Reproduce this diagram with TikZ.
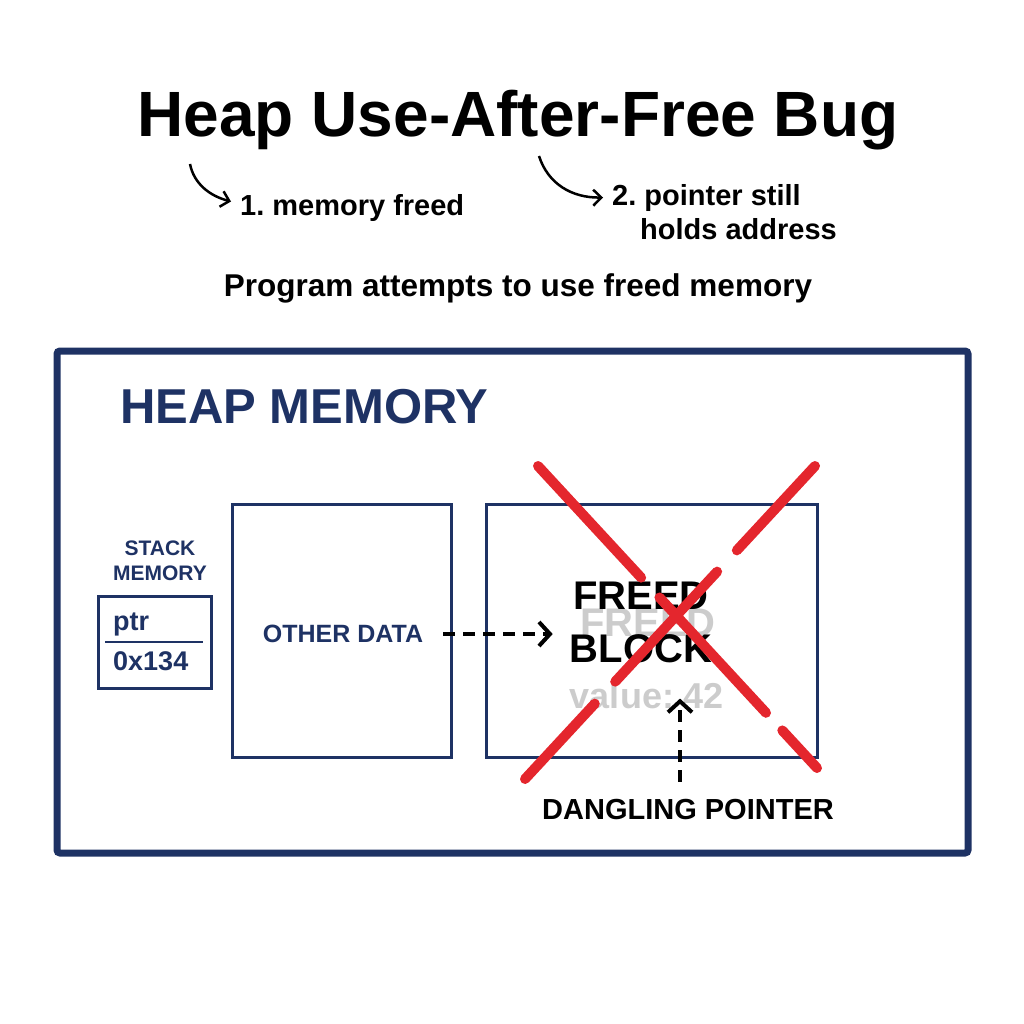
\documentclass[tikz,border=0pt]{standalone}
\usepackage{fontspec}
\setmainfont{Liberation Sans}
\frenchspacing
\usetikzlibrary{arrows.meta}
\definecolor{navy}{HTML}{1E3264}
\definecolor{xred}{HTML}{E4262D}
\newcommand{\fsz}[2]{\fontsize{#1}{#2}\selectfont\bfseries}

\begin{document}
\begin{tikzpicture}[x=1pt, y=-1pt, inner sep=0pt,
    box/.style={draw=navy, line width=3pt},
    notearrow/.style={line width=2.5pt, -{Straight Barb[length=8pt,width=16pt]}},
    dasharrow/.style={line width=4pt, dash pattern=on 12pt off 8pt,
      -{Straight Barb[length=11pt,width=24pt]}},
    cross/.style={xred, line width=10pt, line cap=round}]
   \useasboundingbox (0,0) rectangle (1024,1024);

   % titles
   \node[anchor=base, font=\fsz{64}{70}] (title) at (518,137) {Heap Use-After-Free Bug};
   \node[anchor=base west, font=\fsz{29}{34}] (freedlab) at (240,215) {1. memory freed};
   \node[anchor=base west, font=\fsz{29}{34}] (ptrlab) at (612,206) {2. pointer still};
   \node[anchor=base west, font=\fsz{29}{34}] (ptrlabb) at (640,240) {holds address};
   \node[anchor=base, font=\fsz{31.5}{36}] (prog) at (518,296) {Program attempts to use freed memory};

   \coordinate (nstart) at (190,164);
   \coordinate (pstart) at (539,156);
   \draw[notearrow] (nstart) .. controls (194,184) and (210,196) .. ([xshift=-9pt,yshift=6pt]freedlab.west);
   \draw[notearrow] (pstart) .. controls (548,184) and (572,198) .. ([xshift=-9pt,yshift=1pt]ptrlab.west);

   % heap frame
   \draw[navy, line width=7pt, rounded corners=3pt] (57,351) rectangle (968,853);
   \node[anchor=base west, text=navy, font=\fsz{49}{56}] (heap) at (120,423) {HEAP MEMORY};

   % stack
   \node[align=center, text=navy, font=\fsz{21}{25}] (stack) at (160,561) {STACK\\MEMORY};
   \draw[box] (98,596) rectangle (211,688);
   \draw[navy, line width=1.5pt] (105,642) -- (203,642);
   \node[anchor=base west, text=navy, font=\fsz{27}{32}] (ptr) at (113,630) {ptr};
   \node[anchor=base west, text=navy, font=\fsz{27}{32}] (addr) at (113,670) {0x134};

   % blocks
   \draw[box] (232,504) rectangle (451,757);
   \node[text=navy, font=\fsz{25}{30}] (other) at (343,634) {OTHER DATA};
   \draw[box] (486,504) rectangle (817,757);
   \node[text=black!20, font=\fsz{40}{53}] (ghost) at (648,623) {FREED};
   \node[align=center, font=\fsz{40}{53}] (freed) at (641,622) {FREED\\BLOCK};
   \node[anchor=base, text=black!20, font=\fsz{36}{42}] (value) at (647,708) {value: 42};
   \node[font=\fsz{29}{34}] (dang) at (688,810) {DANGLING POINTER};

   \draw[dasharrow, shorten <=20pt, shorten >=17pt] (other.east) -- (other.east -| freed.west);
   \draw[dasharrow] ([xshift=-8pt,yshift=18pt]dang.north) -- ([xshift=33pt,yshift=10pt]value.south);

   % red cross
   \draw[cross, dash pattern=on 152pt off 27pt on 157pt off 24pt on 200pt] (538,466) -- (817,768);
   \draw[cross, dash pattern=on 115pt off 29pt on 150pt off 30pt on 200pt] (815,466) -- (525,779);
\end{tikzpicture}
\end{document}
